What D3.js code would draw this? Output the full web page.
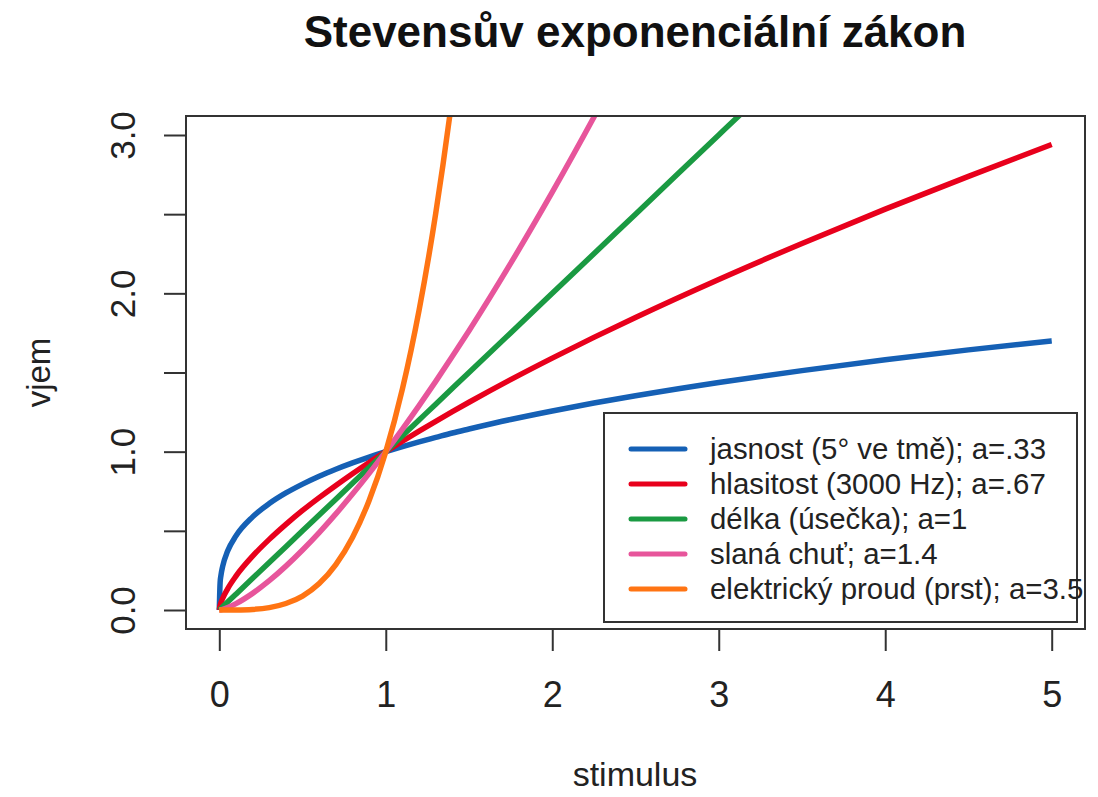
<!DOCTYPE html>
<html>
<head>
<meta charset="utf-8">
<script src="https://cdn.jsdelivr.net/npm/d3@7"></script>
<style>
  body { margin: 0; background: #fff; }
  text { font-family: "Liberation Sans", Arial, sans-serif; }
</style>
</head>
<body>
<svg width="1098" height="797"></svg>
<script>
const stimulus = [0, 0.005, 0.01, 0.02, 0.05, 0.1, 0.2, 0.3, 0.4, 0.5, 0.6, 0.7, 0.8, 0.9, 1,
  1.1, 1.2, 1.3, 1.4, 1.5, 1.75, 2, 2.25, 2.5, 3, 3.5, 4, 4.5, 5];

const jasnost = [0, 0.174, 0.219, 0.275, 0.372, 0.468, 0.588, 0.672, 0.739, 0.795, 0.845, 0.889, 0.929, 0.966, 1,
  1.032, 1.062, 1.090, 1.118, 1.143, 1.203, 1.257, 1.307, 1.353, 1.437, 1.512, 1.580, 1.643, 1.700];
const hlasitost = [0, 0.029, 0.046, 0.073, 0.134, 0.214, 0.340, 0.446, 0.541, 0.629, 0.710, 0.787, 0.861, 0.932, 1,
  1.066, 1.130, 1.192, 1.253, 1.312, 1.455, 1.591, 1.722, 1.848, 2.088, 2.315, 2.532, 2.739, 2.940];
const delka = [0, 0.005, 0.01, 0.02, 0.05, 0.1, 0.2, 0.3, 0.4, 0.5, 0.6, 0.7, 0.8, 0.9, 1,
  1.1, 1.2, 1.3, 1.4, 1.5, 1.75, 2, 2.25, 2.5, 3, 3.5, 4, 4.5, 5];
const slanaChut = [0, 0.0006, 0.0016, 0.0042, 0.015, 0.040, 0.105, 0.185, 0.277, 0.379, 0.489, 0.607, 0.732, 0.863, 1,
  1.143, 1.291, 1.444, 1.602, 1.764, 2.189, 2.639, 3.112, 3.607, 4.656, 5.777, 6.964, 8.213, 9.518];
const proud = [0, 0, 0, 0, 0, 0.0003, 0.0036, 0.015, 0.041, 0.088, 0.167, 0.287, 0.458, 0.692, 1,
  1.396, 1.893, 2.505, 3.247, 4.134, 7.09, 11.31, 17.08, 24.71, 46.77, 80.2, 128, 193.3, 279.5];

const seriesNames = [
  "jasnost (5° ve tmě); a=.33",
  "hlasitost (3000 Hz); a=.67",
  "délka (úsečka); a=1",
  "slaná chuť; a=1.4",
  "elektrický proud (prst); a=3.5"
];
const seriesValues = [jasnost, hlasitost, delka, slanaChut, proud];
const colors = ["#1560b5", "#e8001c", "#1a9a42", "#e7559b", "#ff7413"];

const xTicks = [0, 1, 2, 3, 4, 5];
const yTicks = [0, 0.5, 1, 1.5, 2, 2.5, 3];
const yLabelled = [0, 1, 2, 3];

const svg = d3.select("svg");
const margin = {left: 186, right: 1085, top: 116, bottom: 629};

// R style 4% padding on both axes
const x = d3.scaleLinear().domain([-0.2, 5.2]).range([margin.left, margin.right]);
const y = d3.scaleLinear().domain([-0.12, 3.12]).range([margin.bottom, margin.top]);

svg.append("clipPath").attr("id", "plotclip")
  .append("rect")
  .attr("x", margin.left).attr("y", margin.top)
  .attr("width", margin.right - margin.left)
  .attr("height", margin.bottom - margin.top);

const line = d3.line()
  .x(d => x(d[0]))
  .y(d => y(d[1]))
  .curve(d3.curveMonotoneX);

const plot = svg.append("g").attr("clip-path", "url(#plotclip)");
seriesValues.forEach((vals, i) => {
  plot.append("path")
    .datum(stimulus.map((s, j) => [s, vals[j]]))
    .attr("fill", "none")
    .attr("stroke", colors[i])
    .attr("stroke-width", 5.5)
    .attr("stroke-linejoin", "round")
    .attr("d", line);
});

// box
svg.append("rect")
  .attr("x", margin.left).attr("y", margin.top)
  .attr("width", margin.right - margin.left)
  .attr("height", margin.bottom - margin.top)
  .attr("fill", "none").attr("stroke", "#333").attr("stroke-width", 2);

// x axis
const xAxis = d3.axisBottom(x).tickValues(xTicks).tickSize(22).tickFormat(d3.format("d"));
const gx = svg.append("g").attr("transform", `translate(0,${margin.bottom})`).call(xAxis);
gx.select(".domain").remove();
gx.selectAll(".tick line").attr("stroke", "#333").attr("stroke-width", 2);
gx.selectAll(".tick text").attr("font-size", 36).attr("fill", "#222")
  .attr("font-family", "'Liberation Sans', Arial, sans-serif")
  .attr("dy", null).attr("y", 78);

// y axis
const yAxis = d3.axisLeft(y).tickValues(yTicks).tickSize(22).tickFormat(d => yLabelled.includes(d) ? d3.format(".1f")(d) : "");
const gy = svg.append("g").attr("transform", `translate(${margin.left},0)`).call(yAxis);
gy.select(".domain").remove();
gy.selectAll(".tick line").attr("stroke", "#333").attr("stroke-width", 2);
gy.selectAll(".tick text")
  .attr("font-size", 35).attr("fill", "#222")
  .attr("font-family", "'Liberation Sans', Arial, sans-serif")
  .attr("x", 0).attr("dy", null)
  .attr("text-anchor", "middle")
  .attr("transform", "translate(-51,0) rotate(-90)")
  .attr("y", 0);

// titles
svg.append("text")
  .attr("x", 635).attr("y", 47)
  .attr("text-anchor", "middle")
  .attr("font-size", 44).attr("font-weight", "bold").attr("fill", "#111")
  .text("Stevensův exponenciální zákon");

svg.append("text")
  .attr("x", 635).attr("y", 786)
  .attr("text-anchor", "middle")
  .attr("font-size", 34).attr("fill", "#222")
  .text("stimulus");

svg.append("text")
  .attr("transform", `translate(50,${(margin.top + margin.bottom) / 2}) rotate(-90)`)
  .attr("text-anchor", "middle")
  .attr("font-size", 33).attr("fill", "#222")
  .text("vjem");

// legend
const lg = svg.append("g");
lg.append("rect")
  .attr("x", 604).attr("y", 413).attr("width", 473).attr("height", 209)
  .attr("fill", "#fff").attr("stroke", "#333").attr("stroke-width", 2);
seriesNames.forEach((name, i) => {
  const ly = 449 + i * 35;
  lg.append("line")
    .attr("x1", 631).attr("x2", 685).attr("y1", ly).attr("y2", ly)
    .attr("stroke", colors[i]).attr("stroke-width", 5).attr("stroke-linecap", "round");
  lg.append("text")
    .attr("x", 710).attr("y", ly).attr("dy", "0.35em")
    .attr("font-size", 29.4).attr("fill", "#222")
    .text(name);
});
</script>
</body>
</html>
